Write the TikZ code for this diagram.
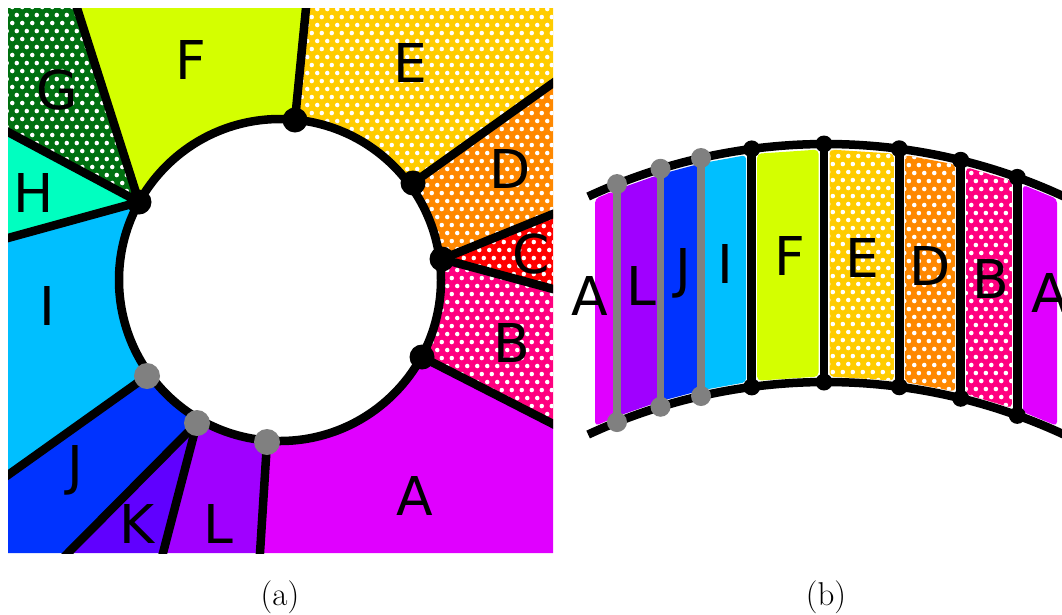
\documentclass[tikz,border=0pt]{standalone}
\usepackage{fontspec}
\newfontfamily\labfont{DejaVu Sans}
\usetikzlibrary{patterns,calc}
\pgfdeclarepatternformonly{wdots}{\pgfqpoint{0pt}{0pt}}{\pgfqpoint{9.5pt}{16.454pt}}{\pgfqpoint{9.5pt}{16.454pt}}{%
  \pgfpathcircle{\pgfqpoint{2.375pt}{4.11pt}}{2.35pt}%
  \pgfpathcircle{\pgfqpoint{7.125pt}{12.34pt}}{2.35pt}%
  \pgfusepath{fill}}
\definecolor{cA}{RGB}{224,0,255}
\definecolor{cB}{RGB}{255,0,128}
\definecolor{cC}{RGB}{255,0,0}
\definecolor{cD}{RGB}{255,136,0}
\definecolor{cE}{RGB}{255,204,0}
\definecolor{cF}{RGB}{212,255,0}
\definecolor{cG}{RGB}{0,112,16}
\definecolor{cH}{RGB}{0,255,192}
\definecolor{cI}{RGB}{0,191,255}
\definecolor{cJ}{RGB}{0,51,255}
\definecolor{cK}{RGB}{96,0,255}
\definecolor{cL}{RGB}{160,0,255}
\definecolor{gdot}{RGB}{128,128,128}
\tikzset{
  reg/.style={fill=#1},
  dreg/.style={fill=#1, postaction={pattern=wdots, pattern color=white}},
  seam/.style={line width=8.5pt, black},
  gseam/.style={line width=7.5pt, gdot},
  bdotA/.style={circle, fill=black, inner sep=0pt, minimum size=25pt},
  gdotA/.style={circle, fill=gdot, inner sep=0pt, minimum size=26pt},
  bdotB/.style={circle, fill=black, inner sep=0pt, minimum size=17pt},
  gdotB/.style={circle, fill=gdot, inner sep=0pt, minimum size=20pt},
  lab/.style={font={\labfont\fontsize{53.5}{60}\selectfont}, anchor=base, inner sep=0pt},
  captext/.style={font={\fontsize{33}{38}\selectfont}, inner sep=0pt}
}
\newcommand\bandstrip[3]{\path[#3, rounded corners=4pt] (#1,{topy(#1)+5.5}) -- (#2,{topy(#2)+5.5}) -- (#2,{topy(#2)+232.5}) -- (#1,{topy(#1)+232.5}) -- cycle;}
\begin{document}
\begin{tikzpicture}[x=1pt,y=-1pt,declare function={topy(\q)=709-565*sqrt(1-((\q-826)/565)^2);}]
\useasboundingbox (0,0) rectangle (1062,614);
\clip (0,0) rectangle (1062,614);
% ---------------- panel (a)
\begin{scope}
\clip (8,8) rectangle (553,553);
\coordinate (O) at (280,280);
\coordinate (pFE) at (295,120);
\coordinate (pED) at (413,183);
\coordinate (pDC) at (442,259);
\coordinate (pBA) at (422,357);
\coordinate (pAL) at (267,442);
\coordinate (pLK) at (197,423);
\coordinate (pJI) at (147,376);
\coordinate (pIF) at (139,202);
\coordinate (qFE) at (306,8);
\coordinate (qED) at (553,83);
\coordinate (qDC) at (553,214);
\coordinate (qCB) at (553,289);
\coordinate (qBA) at (553,424);
\coordinate (qAL) at (260,553);
\coordinate (qLK) at (163,553);
\coordinate (qKJ) at (68,553);
\coordinate (qJI) at (8,475);
\coordinate (qIH) at (8,238);
\coordinate (qHG) at (8,132);
\coordinate (qGF) at (77,8);
\path[reg=cF] (O) -- (pIF) -- (qGF) -- (qFE) -- (pFE) -- cycle;
\path[dreg=cE] (O) -- (pFE) -- (qFE) -- (553,8) -- (qED) -- (pED) -- cycle;
\path[dreg=cD] (O) -- (pED) -- (qED) -- (qDC) -- (pDC) -- cycle;
\path[dreg=cC] (pDC) -- (qDC) -- (qCB) -- cycle;
\path[dreg=cB] (O) -- (pDC) -- (qCB) -- (qBA) -- (pBA) -- cycle;
\path[reg=cA] (O) -- (pBA) -- (qBA) -- (553,553) -- (qAL) -- (pAL) -- cycle;
\path[reg=cL] (O) -- (pAL) -- (qAL) -- (qLK) -- (pLK) -- cycle;
\path[reg=cK] (pLK) -- (qLK) -- (qKJ) -- cycle;
\path[reg=cJ] (O) -- (pLK) -- (qKJ) -- (8,553) -- (qJI) -- (pJI) -- cycle;
\path[reg=cI] (O) -- (pJI) -- (qJI) -- (qIH) -- (pIF) -- cycle;
\path[reg=cH] (pIF) -- (qIH) -- (qHG) -- cycle;
\path[dreg=cG] (pIF) -- (qHG) -- (8,8) -- (qGF) -- cycle;
\draw[line width=8.5pt, fill=white] (O) circle[radius=161];
\foreach \a/\b in {pFE/qFE,pED/qED,pDC/qDC,pDC/qCB,pBA/qBA,pAL/qAL,pLK/qLK,pLK/qKJ,pJI/qJI,pIF/qIH,pIF/qHG,pIF/qGF}
  \draw[seam] (\a) -- ($(\a)!1.08!(\b)$);
\foreach \p in {pFE,pED,pDC,pBA,pIF} \node[bdotA] at (\p) {};
\foreach \p in {pAL,pLK,pJI} \node[gdotA] at (\p) {};
\end{scope}
\node[lab] (aF) at (191,79) {F};
\node[lab] (aE) at (410,82) {E};
\node[lab] (aD) at (510,188) {D};
\node[lab] (aC) at (531,273) {C};
\node[lab] (aB) at (512,362) {B};
\node[lab] (aA) at (415,515) {A};
\node[lab] (aL) at (218,543) {L};
\node[lab] (aK) at (137,543) {K};
\node[lab] (aJ) at (75,484) {J};
\node[lab] (aI) at (47,325) {I};
\node[lab] (aH) at (34,212) {H};
\node[lab] (aG) at (57,109) {G};
% ---------------- panel (b)
\bandstrip{595}{613.5}{reg=cA}
\bandstrip{620}{657.5}{reg=cL}
\bandstrip{663.5}{698}{reg=cJ}
\bandstrip{704}{746.2}{reg=cI}
\bandstrip{757.2}{818.5}{reg=cF}
\bandstrip{829.5}{893.8}{dreg=cE}
\bandstrip{904.8}{955.2}{dreg=cD}
\bandstrip{966.2}{1011.8}{dreg=cB}
\bandstrip{1022.8}{1057}{reg=cA}
\draw[seam] (826,709) ++(-114.9:565) arc[start angle=-114.9, end angle=-60, radius=565];
\draw[seam] (826,947) ++(-114.9:565) arc[start angle=-114.9, end angle=-60, radius=565];
\foreach \n/\xx in {1/617,2/660.5,3/701,4/751.7,5/824,6/899.3,7/960.7,8/1017.3} {
  \coordinate (t\n) at (\xx,{topy(\xx)});
  \coordinate (b\n) at (\xx,{topy(\xx)+238});
}
\foreach \n in {1,2,3} \draw[gseam] (t\n) -- (b\n);
\foreach \n in {4,5,6,7,8} \draw[seam] (t\n) -- (b\n);
\foreach \n in {1,2,3} {\node[gdotB] at (t\n) {}; \node[gdotB] at (b\n) {};}
\foreach \n in {4,5,6,7,8} {\node[bdotB] at (t\n) {}; \node[bdotB] at (b\n) {};}
\node[lab] (bA1) at (590,315) {A};
\node[lab] (bL) at (641,305) {L};
\node[lab] (bJ) at (683,287) {J};
\node[lab] (bI) at (725,283) {I};
\node[lab] (bF) at (790,275) {F};
\node[lab] (bE) at (862,277) {E};
\node[lab] (bD) at (930,285) {D};
\node[lab] (bB) at (991,298) {B};
\node[lab] (bA2) at (1050,312) {A};
% captions
\node[captext] (capa) at (280,597) {(a)};
\node[captext] (capb) at (826,597) {(b)};
\end{tikzpicture}
\end{document}
